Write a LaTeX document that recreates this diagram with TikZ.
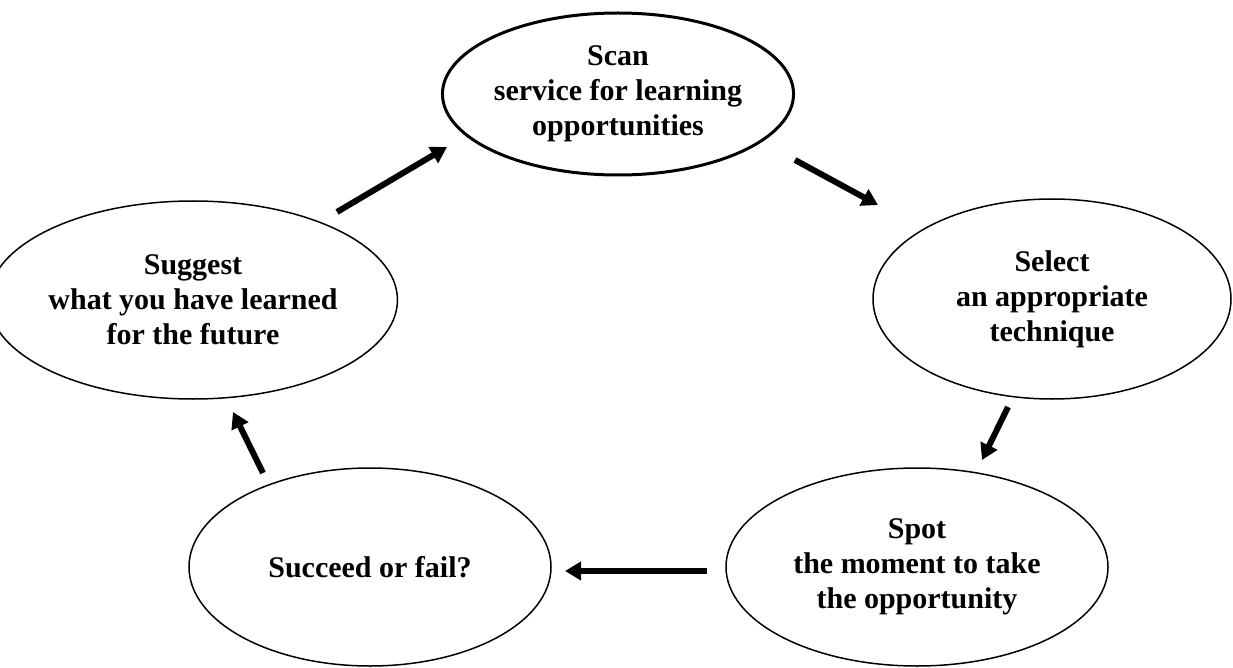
\documentclass[tikz,border=0pt]{standalone}
\usepackage{fontspec}
\setmainfont{Liberation Serif}
\usetikzlibrary{shapes.geometric,arrows.meta}
\begin{document}
\begin{tikzpicture}[x=1pt,y=-1pt,
  stage/.style={ellipse, draw, line width=1.5pt, inner sep=0pt, align=center,
    minimum width=364pt, minimum height=200pt,
    font=\fontsize{30}{35}\selectfont\bfseries},
  flow/.style={line width=6pt, -{Triangle[length=16pt,width=18pt]}}]
\useasboundingbox (0,0) rectangle (1233,668);

% the five stages of the cycle
\node[stage, line width=3pt, minimum width=326pt, minimum height=162pt] (scan) at (618,94)
  {Scan\\service for learning\\opportunities};
\node[stage, minimum width=358pt, minimum height=200pt] (select) at (1052,299)
  {Select\\an appropriate\\technique};
\node[stage, minimum width=382pt, minimum height=198pt] (spot) at (917,567)
  {Spot\\the moment to take\\the opportunity};
\node[stage, minimum width=362pt, minimum height=198pt] (succeed) at (370,567)
  {Succeed or fail?};
\node[stage, minimum width=366pt, minimum height=198pt] (suggest) at (193,300)
  {Suggest\\what you have learned\\for the future};

% arrow end points between the stages
\coordinate (a1s) at (795,160); \coordinate (a1e) at (878,205);
\coordinate (a2s) at (1008,407); \coordinate (a2e) at (982,460);
\coordinate (a3s) at (707,571); \coordinate (a3e) at (565,571);
\coordinate (a4s) at (263,473); \coordinate (a4e) at (233,412);
\coordinate (a5s) at (337,212); \coordinate (a5e) at (447,147);

\draw[flow] (a1s) -- (a1e);
\draw[flow] (a2s) -- (a2e);
\draw[flow] (a3s) -- (a3e);
\draw[flow] (a4s) -- (a4e);
\draw[flow] (a5s) -- (a5e);
\end{tikzpicture}
\end{document}
